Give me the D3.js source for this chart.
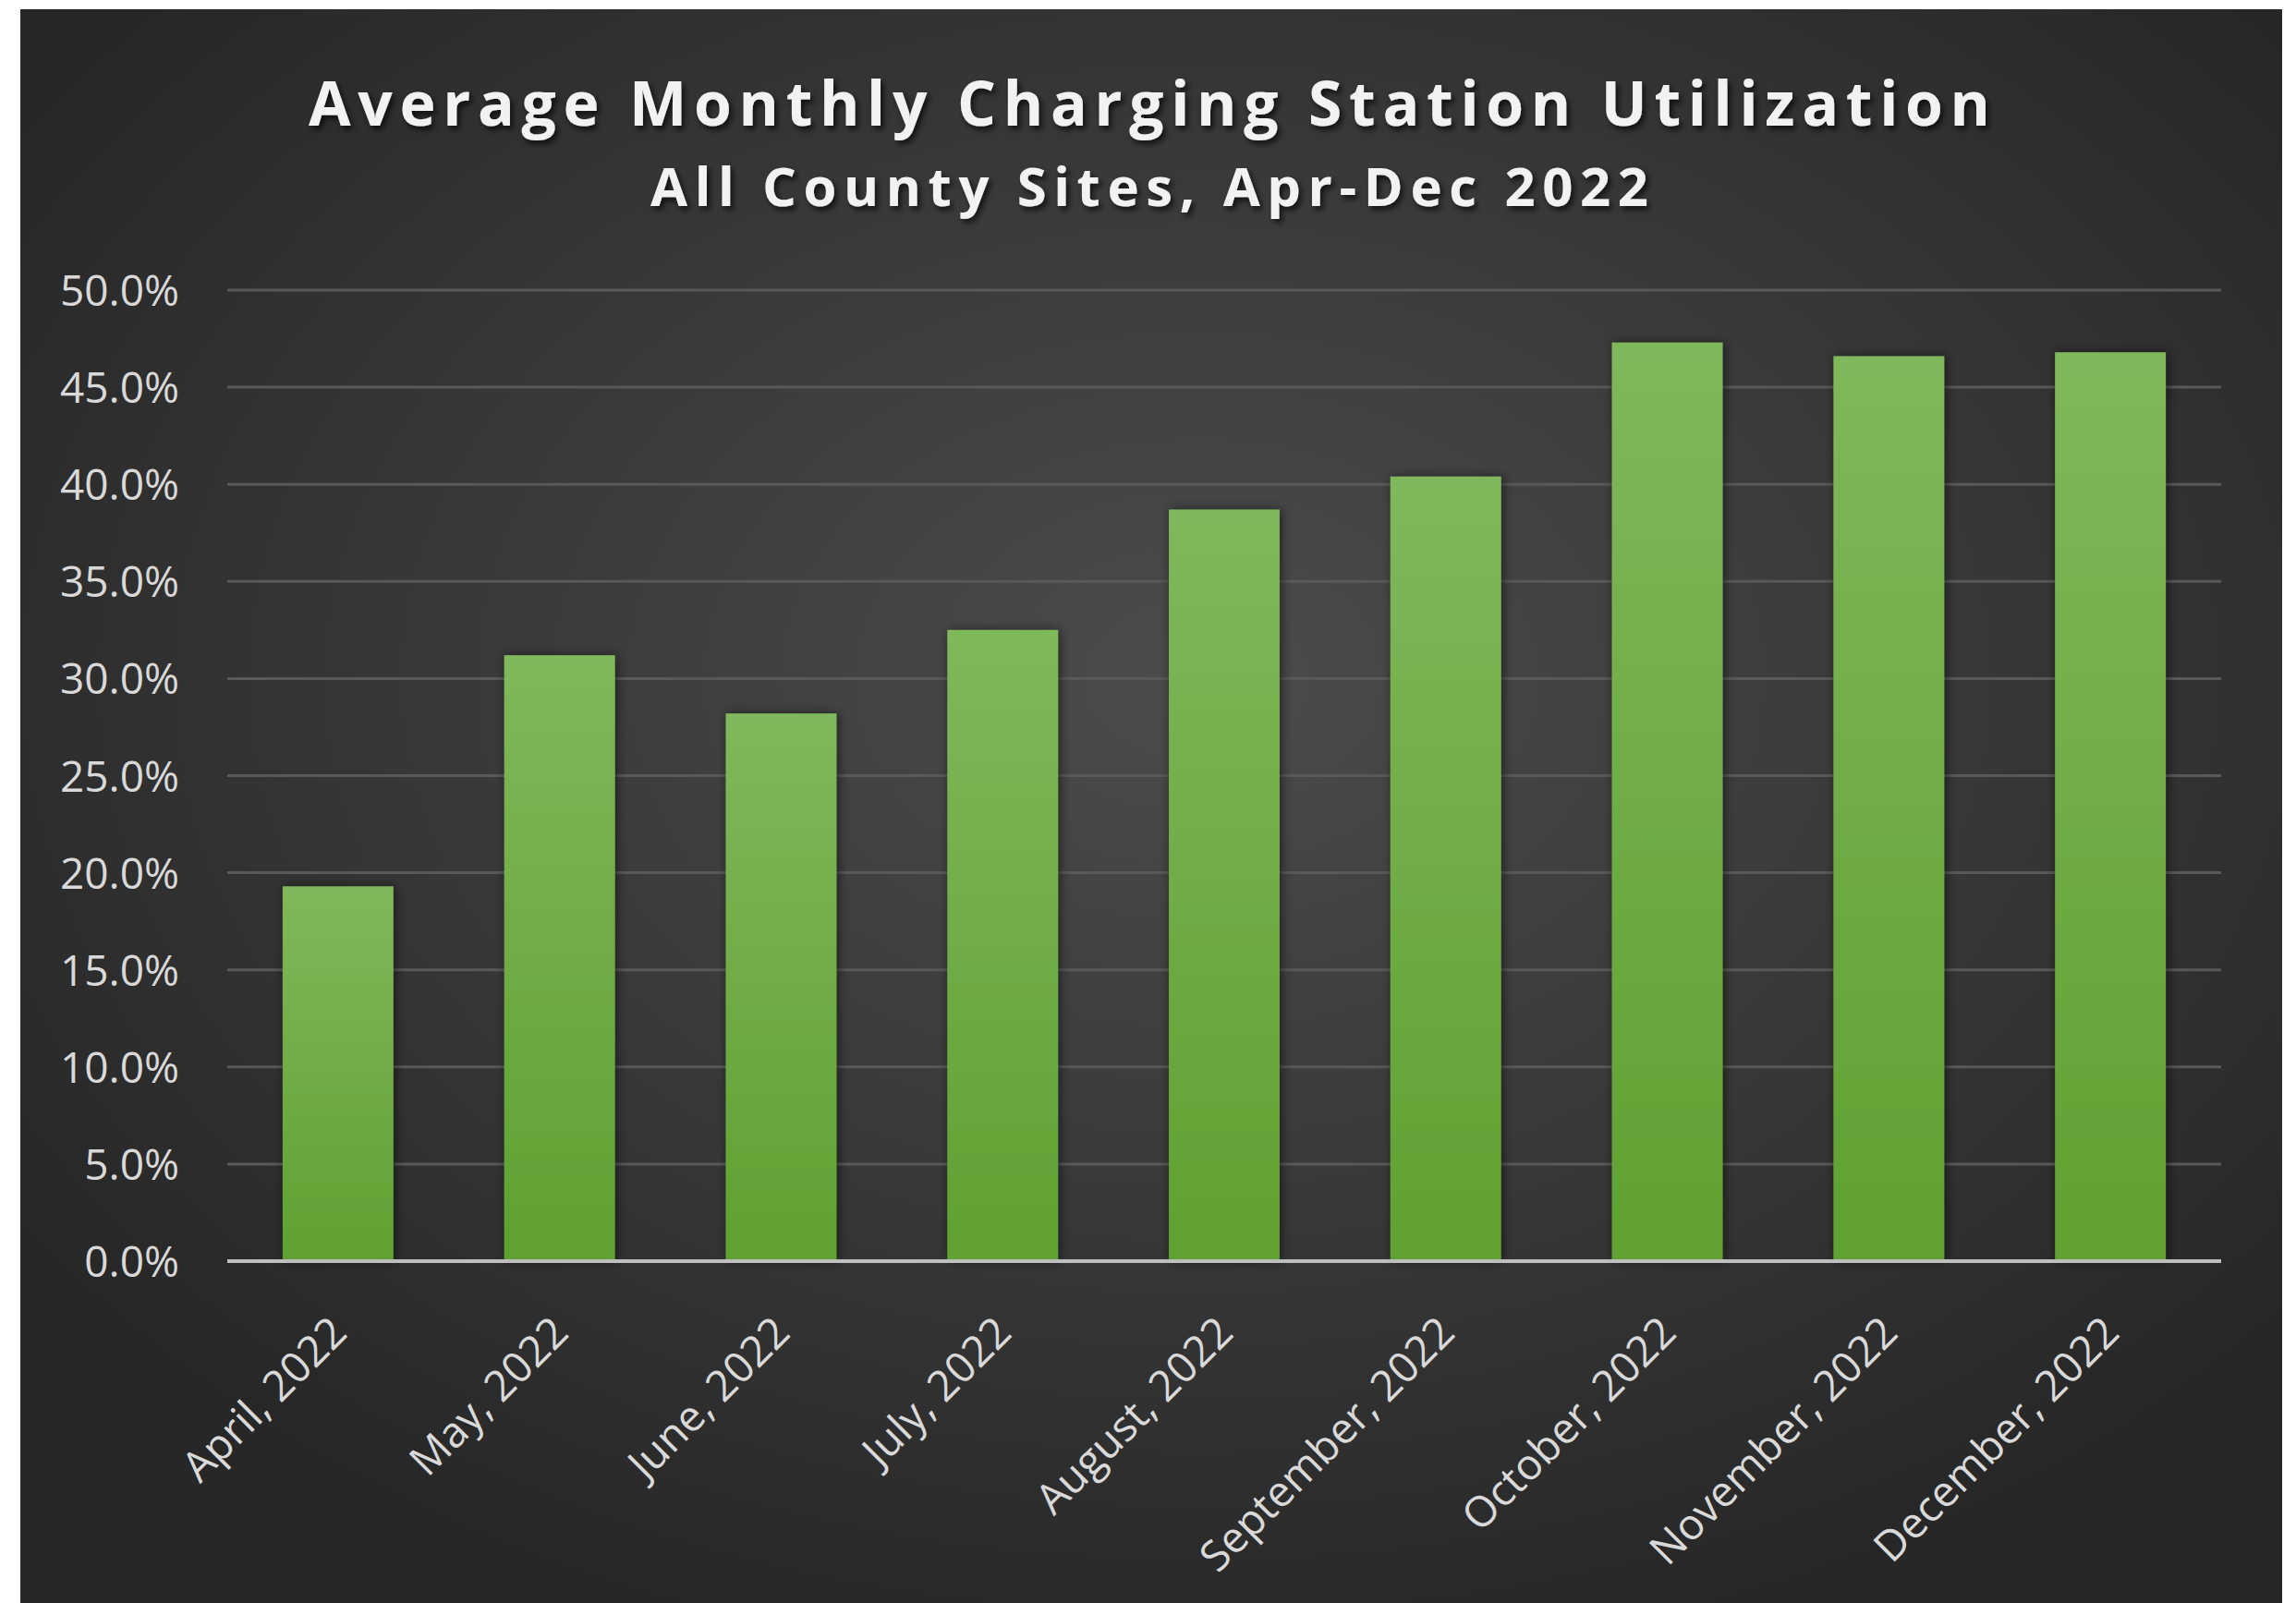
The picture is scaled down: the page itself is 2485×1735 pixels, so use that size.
<!DOCTYPE html>
<html>
<head>
<meta charset="utf-8">
<script src="https://cdn.jsdelivr.net/npm/d3@7"></script>
<style>
  html, body { margin: 0; padding: 0; background: #fff; }
  svg { display: block; }
</style>
</head>
<body>
<svg id="chart" width="2485" height="1735"></svg>
<script>
// Monthly utilization
const months = ['April, 2022', 'May, 2022', 'June, 2022', 'July, 2022', 'August, 2022',
  'September, 2022', 'October, 2022', 'November, 2022', 'December, 2022'];
const utilization = [19.3, 31.2, 28.2, 32.5, 38.7, 40.4, 47.3, 46.6, 46.8];
const yTicks = [0, 5, 10, 15, 20, 25, 30, 35, 40, 45, 50];

const svg = d3.select('#chart');
const width = +svg.attr('width');
const height = +svg.attr('height');

// panel and plot area
const panel = { x: 22, y: 10, w: 2448, h: 1725 };
const plot = { left: 246, right: 2404, top: 314, bottom: 1365 };

const defs = svg.append('defs');

const bg = defs.append('radialGradient')
  .attr('id', 'bg')
  .attr('cx', '52%').attr('cy', '42%').attr('r', '62%');
bg.append('stop').attr('offset', '0%').attr('stop-color', '#4c4c4c');
bg.append('stop').attr('offset', '100%').attr('stop-color', '#272727');

const barGrad = defs.append('linearGradient')
  .attr('id', 'barGrad')
  .attr('x1', 0).attr('y1', 0).attr('x2', 0).attr('y2', 1);
barGrad.append('stop').attr('offset', '0%').attr('stop-color', '#80b85b');
barGrad.append('stop').attr('offset', '100%').attr('stop-color', '#5fa131');

const barShadow = defs.append('filter').attr('id', 'barShadow')
  .attr('x', '-30%').attr('y', '-10%').attr('width', '160%').attr('height', '120%');
barShadow.append('feDropShadow')
  .attr('dx', 2).attr('dy', 0).attr('stdDeviation', 6)
  .attr('flood-color', '#000').attr('flood-opacity', 0.55);

const textShadow = defs.append('filter').attr('id', 'textShadow')
  .attr('x', '-5%').attr('y', '-30%').attr('width', '110%').attr('height', '160%');
textShadow.append('feDropShadow')
  .attr('dx', 3).attr('dy', 4).attr('stdDeviation', 3)
  .attr('flood-color', '#000').attr('flood-opacity', 0.7);

svg.append('rect')
  .attr('x', panel.x).attr('y', panel.y)
  .attr('width', panel.w).attr('height', panel.h)
  .attr('fill', 'url(#bg)');

// scales
const x = d3.scaleBand()
  .domain(months)
  .range([plot.left, plot.right])
  .paddingInner(0.5)
  .paddingOuter(0.25);

const y = d3.scaleLinear()
  .domain([0, 50])
  .range([plot.bottom, plot.top]);

// gridlines
svg.append('g')
  .selectAll('line')
  .data(yTicks.filter(d => d > 0))
  .join('line')
  .attr('x1', plot.left).attr('x2', plot.right)
  .attr('y1', d => y(d)).attr('y2', d => y(d))
  .attr('stroke', '#595959')
  .attr('stroke-width', 3);

// y axis labels
const yAxis = d3.axisLeft(y)
  .tickValues(yTicks)
  .tickFormat(d => d.toFixed(1) + '%')
  .tickSize(0)
  .tickPadding(0);

const yg = svg.append('g')
  .attr('transform', `translate(${plot.left - 52},0)`)
  .call(yAxis);
yg.select('.domain').remove();
yg.selectAll('text')
  .attr('fill', '#d9d9d9')
  .attr('font-family', '"Open Sans", sans-serif')
  .attr('font-size', 46)
  .attr('dy', '0.36em');

// bars
svg.append('g')
  .selectAll('rect')
  .data(months)
  .join('rect')
  .attr('x', d => x(d))
  .attr('y', (d, i) => y(utilization[i]))
  .attr('width', x.bandwidth())
  .attr('height', (d, i) => y(0) - y(utilization[i]))
  .attr('fill', 'url(#barGrad)')
  .attr('filter', 'url(#barShadow)');

// baseline
svg.append('line')
  .attr('x1', plot.left).attr('x2', plot.right)
  .attr('y1', y(0)).attr('y2', y(0))
  .attr('stroke', '#bfbfbf')
  .attr('stroke-width', 4);

// x axis labels, rotated
const xAxis = d3.axisBottom(x).tickSize(0).tickPadding(0);
const xg = svg.append('g')
  .attr('transform', `translate(0,${plot.bottom})`)
  .call(xAxis);
xg.select('.domain').remove();
xg.selectAll('text')
  .attr('fill', '#d9d9d9')
  .attr('font-family', '"Open Sans", sans-serif')
  .attr('font-size', 46)
  .attr('text-anchor', 'end')
  .attr('dy', 0)
  .attr('transform', 'translate(12,80) rotate(-45)');

// titles
svg.append('text')
  .attr('x', 1244).attr('y', 136)
  .attr('text-anchor', 'middle')
  .attr('font-family', '"Open Sans", sans-serif')
  .attr('font-weight', 700)
  .attr('font-size', 66)
  .attr('fill', '#f2f2f2')
  .attr('textLength', 1820)
  .attr('lengthAdjust', 'spacing')
  .attr('filter', 'url(#textShadow)')
  .text('Average Monthly Charging Station Utilization');

svg.append('text')
  .attr('x', 1244).attr('y', 223)
  .attr('text-anchor', 'middle')
  .attr('font-family', '"Open Sans", sans-serif')
  .attr('font-weight', 700)
  .attr('font-size', 58)
  .attr('fill', '#f2f2f2')
  .attr('textLength', 1080)
  .attr('lengthAdjust', 'spacing')
  .attr('filter', 'url(#textShadow)')
  .text('All County Sites, Apr-Dec 2022');
</script>
</body>
</html>
